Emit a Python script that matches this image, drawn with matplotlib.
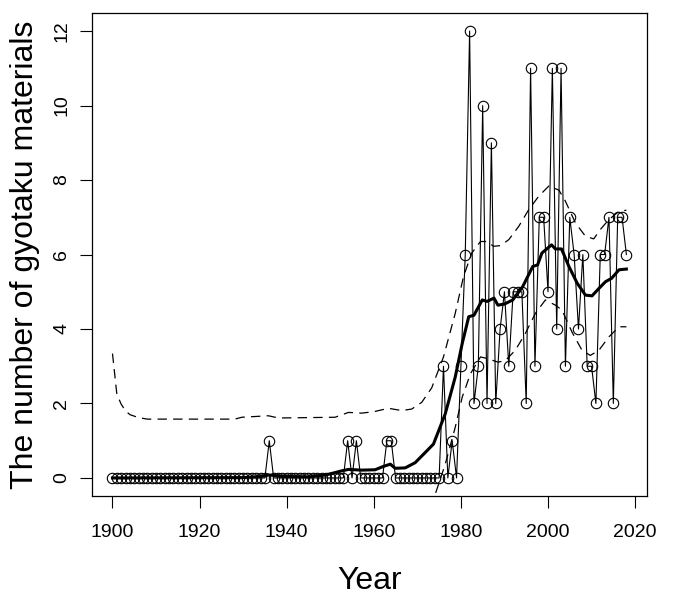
import matplotlib
matplotlib.use("Agg")
import matplotlib.pyplot as plt
import numpy as np

plt.rcParams['font.family'] = ['Liberation Sans', 'DejaVu Sans']

# yearly counts, 1900-2018
years = np.arange(1900, 2019)
counts = [
    0, 0, 0, 0, 0, 0, 0, 0, 0, 0,      # 1900s
    0, 0, 0, 0, 0, 0, 0, 0, 0, 0,      # 1910s
    0, 0, 0, 0, 0, 0, 0, 0, 0, 0,      # 1920s
    0, 0, 0, 0, 0, 0, 1, 0, 0, 0,      # 1930s
    0, 0, 0, 0, 0, 0, 0, 0, 0, 0,      # 1940s
    0, 0, 0, 0, 1, 0, 1, 0, 0, 0,      # 1950s
    0, 0, 0, 1, 1, 0, 0, 0, 0, 0,      # 1960s
    0, 0, 0, 0, 0, 0, 3, 0, 1, 0,      # 1970s
    3, 6, 12, 2, 3, 10, 2, 9, 2, 4,    # 1980s
    5, 3, 5, 5, 5, 2, 11, 3, 7, 7,     # 1990s
    5, 11, 4, 11, 3, 7, 6, 4, 6, 3,    # 2000s
    3, 2, 6, 6, 7, 2, 7, 7, 6,         # 2010s
]

# smoothed trend (thick line)
fit_x = [1900, 1930, 1934, 1936, 1939, 1945, 1949, 1952.6, 1954.2, 1957.2,
         1960.3, 1962.2, 1963.8, 1964.9, 1967.2, 1969.5, 1972.2, 1973.7,
         1976.4, 1978.7, 1980.3, 1981.8, 1983, 1984.9, 1986, 1987.6, 1988.5,
         1990, 1991.9, 1994.2, 1996.5, 1997.6, 1998.6, 2000.8, 2001.7, 2003.1,
         2004.8, 2006.7, 2008.6, 2010.1, 2011.7, 2013.2, 2014.6, 2016.3, 2018]
fit_y = [0.0, 0.01, 0.04, 0.08, 0.04, 0.03, 0.08, 0.19, 0.23, 0.21,
         0.22, 0.31, 0.37, 0.26, 0.27, 0.41, 0.73, 0.91,
         1.72, 2.71, 3.61, 4.33, 4.37, 4.78, 4.74, 4.83, 4.64,
         4.67, 4.78, 5.14, 5.68, 5.72, 6.04, 6.26, 6.15, 6.15,
         5.68, 5.23, 4.91, 4.89, 5.09, 5.27, 5.36, 5.59, 5.61]

# upper band (dashed)
up_x = [1900, 1901, 1902, 1903, 1904, 1906, 1908, 1928.1, 1929.7, 1935.8,
        1938.1, 1951.1, 1954.2, 1957.2, 1960, 1963.4, 1966.4, 1968.7, 1971,
        1973.3, 1976, 1978.7, 1980.6, 1982.5, 1984.5, 1986, 1987.5, 1989.1,
        1991, 1993.3, 1995.6, 1997.9, 2000.2, 2002.5, 2004, 2006.3, 2008.6,
        2010.5, 2012, 2014, 2016.3, 2018]
up_y = [3.34, 2.25, 1.98, 1.8, 1.7, 1.62, 1.58, 1.58, 1.63, 1.67,
        1.61, 1.63, 1.76, 1.74, 1.78, 1.87, 1.81, 1.85, 2.03,
        2.42, 3.25, 4.42, 5.41, 6.04, 6.35, 6.35, 6.22, 6.24,
        6.40, 6.76, 7.21, 7.57, 7.84, 7.73, 7.43, 6.85, 6.49,
        6.42, 6.67, 6.94, 7.16, 7.19]

# lower band (dashed)
lo_x = [1972, 1974.1, 1976.4, 1978.7, 1980.3, 1982.2, 1984.5, 1986, 1988.5,
        1990.2, 1992.5, 1994.8, 1997.1, 1999.4, 2001.7, 2003.2, 2005.5,
        2007.8, 2009.7, 2011.7, 2014, 2016.3, 2018]
lo_y = [-1.2, -0.44, 0.37, 1.36, 2.17, 2.80, 3.25, 3.21, 3.11,
        3.15, 3.43, 3.88, 4.42, 4.78, 4.64, 4.51, 3.92,
        3.43, 3.29, 3.43, 3.79, 4.06, 4.06]

fig = plt.figure(figsize=(6.81, 6.01), dpi=100)
ax = fig.add_axes([0.135, 0.175, 0.815, 0.803])

ax.plot(years, counts, color='black', lw=0.8, marker='o', ms=7.5,
        mfc='none', mec='black', mew=0.8)
ax.plot(fit_x, fit_y, color='black', lw=2.2)
ax.plot(up_x, up_y, color='black', lw=0.9, dashes=(7.5, 5))
ax.plot(lo_x, lo_y, color='black', lw=0.9, dashes=(7.5, 5))

ax.set_xlim(1895.28, 2022.72)
ax.set_ylim(-0.48, 12.48)
ax.set_xticks([1900, 1920, 1940, 1960, 1980, 2000, 2020])
ax.set_yticks([0, 2, 4, 6, 8, 10, 12])
ax.tick_params(axis='both', direction='out', length=8.5, width=0.8,
               labelsize=14)
ax.tick_params(axis='x', pad=12)
ax.tick_params(axis='y', pad=7)
for lab in ax.get_yticklabels():
    lab.set_rotation(90)
    lab.set_va('center')
for s in ax.spines.values():
    s.set_linewidth(0.9)

ax.set_xlabel('Year', fontsize=23, labelpad=18)
ax.set_ylabel('The number of gyotaku materials', fontsize=23, labelpad=10)

fig.savefig('out.png', dpi=100)
